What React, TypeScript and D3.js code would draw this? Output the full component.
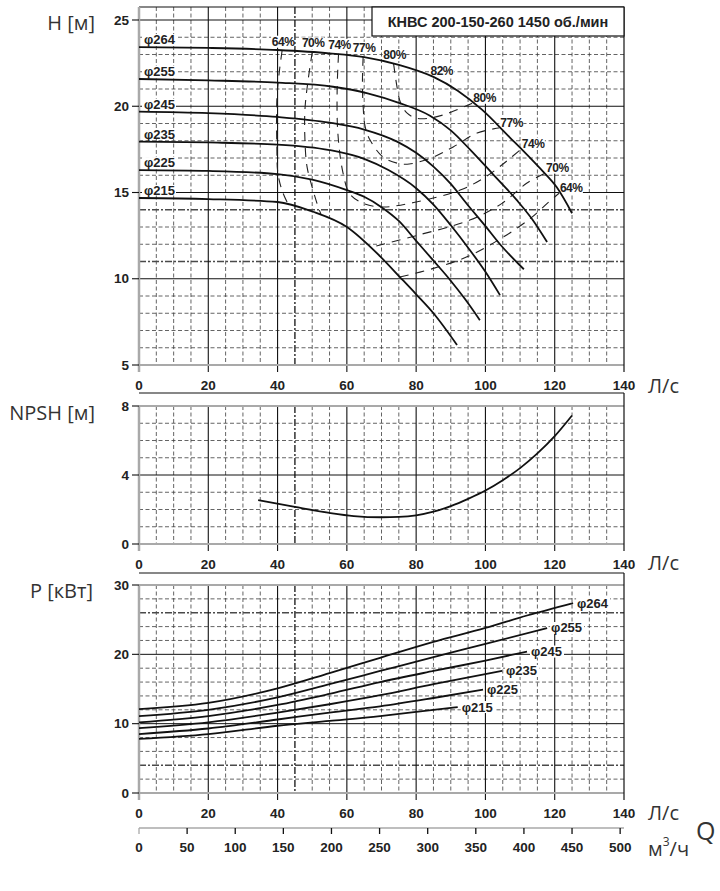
import * as d3 from 'd3';
import React from 'react';

type Pt = [number, number];

// axis ticks
const flowTicks = [0, 20, 40, 60, 80, 100, 120, 140];
const m3Ticks = [0, 50, 100, 150, 200, 250, 300, 350, 400, 450, 500];
const headTicks = [5, 10, 15, 20, 25];
const npshTicks = [0, 4, 8];
const powerTicks = [0, 10, 20, 30];

const diameters = ['φ264', 'φ255', 'φ245', 'φ235', 'φ225', 'φ215'];

// H(Q), one list per impeller diameter
const headCurves: Pt[][] = [
  [[0, 23.43], [20, 23.38], [40, 23.26], [55, 23.07], [65, 22.85], [75, 22.4], [85, 21.7], [92, 20.9], [99, 19.8], [107, 18.2], [111, 17.4], [116, 16.35], [120.6, 15.3], [125, 13.8]],
  [[0, 21.58], [20, 21.5], [40, 21.37], [56, 21.13], [66, 20.75], [75, 20.2], [84, 19.45], [90, 18.6], [95.5, 17.5], [102, 16.1], [109, 14.57], [113.5, 13.45], [117.8, 12.13]],
  [[0, 19.69], [20, 19.6], [40, 19.38], [55, 19.05], [65, 18.65], [74.5, 17.95], [80, 17.3], [85, 16.5], [90, 15.5], [94.6, 14.35], [100, 13.05], [104.2, 12.0], [111.1, 10.55]],
  [[0, 17.95], [20, 17.9], [40, 17.78], [55, 17.46], [65, 16.95], [72, 16.3], [80, 15.25], [85, 14.3], [90, 13.1], [95, 11.8], [100, 10.4], [104.2, 9.05]],
  [[0, 16.3], [20, 16.25], [40, 16.07], [50, 15.75], [60, 15.14], [65, 14.75], [70, 14.15], [75, 13.35], [80, 12.2], [85, 11.05], [89.8, 9.93], [94, 8.85], [98.4, 7.6]],
  [[0, 14.68], [20, 14.62], [40, 14.45], [50, 13.9], [60, 13.0], [69.6, 11.3], [75.3, 10.1], [80, 9.1], [85, 8.0], [91.8, 6.16]],
];

// P(Q), same diameters
const powerCurves: Pt[][] = [
  [[0, 12.1], [20, 13.0], [40, 15.1], [55, 17.3], [69.6, 19.5], [85, 21.8], [100, 23.8], [112, 25.6], [125.3, 27.4]],
  [[0, 11.1], [20, 12.0], [40, 13.8], [55, 15.7], [69.6, 17.6], [85, 19.6], [100, 21.5], [117.8, 23.8]],
  [[0, 10.2], [20, 11.1], [40, 12.7], [55, 14.3], [69.6, 16.0], [85, 17.6], [100, 19.1], [112, 20.4]],
  [[0, 9.35], [20, 10.2], [40, 11.6], [55, 12.8], [69.6, 14.1], [85, 15.7], [104.8, 17.6]],
  [[0, 8.5], [20, 9.3], [40, 10.6], [55, 11.6], [69.6, 12.5], [85, 13.7], [99.3, 14.9]],
  [[0, 7.8], [20, 8.5], [40, 9.7], [55, 10.4], [69.6, 11.1], [80, 11.7], [92, 12.4]],
];

const npshCurve: Pt[] = [
  [34.4, 2.55], [45, 2.15], [55, 1.8], [62, 1.62], [70, 1.55], [75, 1.57], [80, 1.66], [85, 1.87],
  [90, 2.2], [95, 2.62], [100, 3.1], [105, 3.7], [110, 4.4], [115, 5.25], [120, 6.25], [125, 7.45],
];

// iso-efficiency lines (dashed), each as one or two branches
const eff64: Pt[][] = [
  [[41.3, 23.22], [40.5, 22], [39.8, 20.4], [39.8, 17.6], [40.1, 16.1], [41.5, 15.0], [43, 14.35]],
  [[75.3, 10.1], [85, 10.6], [95, 11.3], [105, 12.4], [113, 13.5], [118, 14.4], [121.5, 15.0]],
];
const eff70: Pt[][] = [
  [[50, 23.12], [48.8, 21.5], [47.9, 19.8], [47.9, 18.04], [48.5, 16.5], [50, 15.3], [51.5, 14.3], [52.5, 13.75]],
  [[68.5, 11.9], [80, 12.5], [95.5, 13.4], [105, 14.4], [112, 15.55], [117.5, 16.15]],
];
const eff74: Pt[][] = [
  [[57.6, 23.04], [57.2, 21], [57.4, 18.45], [58.9, 16.13], [60.9, 14.9], [65, 14.35], [70.4, 14.16], [80, 14.45], [92.7, 15.14], [100, 15.9], [106, 16.8], [110.5, 17.55]],
];
const eff77: Pt[][] = [
  [[64.7, 22.86], [64.5, 21.5], [64.7, 20], [65.3, 18.8], [66.7, 18.04], [70.4, 17.06], [74.5, 16.7], [78, 16.65], [85, 17.06], [90.7, 17.64], [97.6, 18.45], [104.3, 18.75]],
];
const eff80: Pt[][] = [
  [[73.5, 22.45], [74.5, 21.1], [75.5, 20.2], [77.4, 19.6], [80.3, 19.3], [85, 19.35], [90, 19.65], [96.5, 20.2]],
];
const effLevels = ['64%', '70%', '74%', '77%', '80%'];
const effBranches = [eff64, eff70, eff74, eff77, eff80];
const bestPoint: Pt = [85, 21.7];
const bestLabel = '82%';

const title = 'КНВС 200-150-260 1450 об./мин';

const X0 = 139;
const X1 = 624;
const x = d3.scaleLinear().domain([0, 140]).range([X0, X1]);
const yH = d3.scaleLinear().domain([5, 25]).range([365, 20]);
const yN = d3.scaleLinear().domain([0, 8]).range([544, 406]);
const yP = d3.scaleLinear().domain([0, 30]).range([793, 585]);
const xM = d3.scaleLinear().domain([0, 500]).range([X0, x(500 / 3.6)]);

const NUM = "'Liberation Sans', Arial, sans-serif";
const WORD = "'Open Sans', 'DejaVu Sans', sans-serif";
const GRID = '#3c3c3c';
const AXIS = '#a9a9a9';

function grid(
  y: d3.ScaleLinear<number, number>,
  lo: number,
  hi: number,
  step: number,
  major: number,
  heavy: number[],
  top: number,
  borderTop: number,
  key: string
) {
  const bottom = y(lo);
  const out: React.ReactNode[] = [];
  d3.range(5, 140, 5).forEach((q) => {
    if (q % 20 === 0 || q === 45) return;
    out.push(<line key={`${key}v${q}`} x1={x(q)} x2={x(q)} y1={top} y2={bottom} stroke={GRID} strokeWidth={0.8} strokeDasharray="4,2.5" />);
  });
  d3.range(lo + step, hi, step).forEach((v) => {
    if (Math.abs(v % major) < 1e-6 || heavy.includes(v)) return;
    out.push(<line key={`${key}h${v}`} x1={X0} x2={X1} y1={y(v)} y2={y(v)} stroke={GRID} strokeWidth={0.8} strokeDasharray="4,2.5" />);
  });
  heavy.forEach((v) => {
    out.push(<line key={`${key}hh${v}`} x1={X0} x2={X1} y1={y(v)} y2={y(v)} stroke="#4a4a4a" strokeWidth={1.7} strokeDasharray="7,2,2,2" />);
  });
  out.push(<line key={`${key}v45`} x1={x(45)} x2={x(45)} y1={top} y2={bottom} stroke="#4a4a4a" strokeWidth={1.7} strokeDasharray="7,2,2,2" />);
  d3.range(lo + major, hi + 1e-6, major).forEach((v) => {
    if (Math.abs(v - hi) < 1e-6 && top === y(hi)) return;
    out.push(<line key={`${key}hm${v}`} x1={X0} x2={X1} y1={y(v)} y2={y(v)} stroke="#111" strokeWidth={1} />);
  });
  flowTicks.forEach((q) => {
    if (q === 0 || q === 140) return;
    out.push(<line key={`${key}vm${q}`} x1={x(q)} x2={x(q)} y1={top} y2={bottom + 7} stroke="#111" strokeWidth={1.1} />);
  });
  if (top === y(hi)) {
    out.push(<line key={`${key}top`} x1={X0} x2={X1} y1={top} y2={top} stroke={AXIS} strokeWidth={2} />);
  }
  if (borderTop < top) {
    out.push(<line key={`${key}btop`} x1={X0} x2={X1} y1={borderTop} y2={borderTop} stroke="#111" strokeWidth={1.2} />);
  } else {
    out.push(<line key={`${key}btop`} x1={X0} x2={X1} y1={top} y2={top} stroke="#111" strokeWidth={1.2} />);
  }
  out.push(<line key={`${key}bot`} x1={X0} x2={X1} y1={bottom} y2={bottom} stroke={AXIS} strokeWidth={2} />);
  out.push(<line key={`${key}left`} x1={X0} x2={X0} y1={top} y2={bottom + 7} stroke={AXIS} strokeWidth={2.5} />);
  out.push(<line key={`${key}right`} x1={X1} x2={X1} y1={borderTop} y2={bottom + 7} stroke="#111" strokeWidth={1.2} />);
  flowTicks.forEach((q) => {
    out.push(
      <text key={`${key}xt${q}`} x={x(q)} y={bottom + 20} textAnchor="middle" dominantBaseline="central" fontFamily={NUM} fontWeight="bold" fontSize={13.5} fill="#222">
        {q}
      </text>
    );
  });
  return out;
}

function yTicks(y: d3.ScaleLinear<number, number>, ticks: number[], key: string) {
  return ticks.map((v) => (
    <g key={`${key}yt${v}`}>
      <line x1={X0 - 7} x2={X0} y1={y(v)} y2={y(v)} stroke="#111" strokeWidth={1.1} />
      <text x={X0 - 10} y={y(v)} textAnchor="end" dominantBaseline="central" fontFamily={NUM} fontWeight="bold" fontSize={13.5} fill="#222">
        {v}
      </text>
    </g>
  ));
}

export default function App() {
  const smooth = d3.curveCatmullRom.alpha(0.5);
  const mono = d3.curveMonotoneX;
  const lineH = d3.line<Pt>().x((d) => x(d[0])).y((d) => yH(d[1])).curve(mono);
  const lineE = d3.line<Pt>().x((d) => x(d[0])).y((d) => yH(d[1])).curve(smooth);
  const lineN = d3.line<Pt>().x((d) => x(d[0])).y((d) => yN(d[1])).curve(mono);
  const lineP = d3.line<Pt>().x((d) => x(d[0])).y((d) => yP(d[1])).curve(mono);

  const unitStyle = { fontFamily: WORD, fontSize: 20, fill: '#333' };
  const effFont = { fontFamily: NUM, fontWeight: 'bold', fontSize: 12, fill: '#222', letterSpacing: -0.5 };

  return (
    <svg width={720} height={891} style={{ position: 'absolute', left: 0, top: 0, background: '#fff' }}>
      <rect width={720} height={891} fill="#fff" />

      {/* H(Q) */}
      {grid(yH, 5, 25, 1, 5, [14, 11], 7, 7, 'h')}
      {yTicks(yH, headTicks, 'h')}
      {effBranches.map((branches, i) =>
        branches.map((b, j) => (
          <path key={`e${i}${j}`} d={lineE(b) || ''} fill="none" stroke="#222" strokeWidth={1.1} strokeDasharray="9,7" />
        ))
      )}
      {headCurves.map((c, i) => (
        <rect key={`hb${i}`} x={142} y={yH(c[0][1]) - 13} width={34} height={10} fill="#fff" />
      ))}
      {effBranches.map((branches, i) => {
        const s = branches[0][0];
        const last = branches[branches.length - 1];
        const e = last[last.length - 1];
        return (
          <g key={`el${i}`} {...effFont}>
            <rect x={x(s[0]) - 11} y={yH(s[1]) - 15} width={23} height={12} fill="#fff" />
            <text x={x(s[0]) + 1} y={yH(s[1]) - 9} textAnchor="middle" dominantBaseline="central">{effLevels[i]}</text>
            <rect x={x(e[0]) - 1} y={yH(e[1]) - 11} width={24} height={12} fill="#fff" />
            <text x={x(e[0])} y={yH(e[1]) - 5} dominantBaseline="central">{effLevels[i]}</text>
          </g>
        );
      })}
      <g {...effFont}>
        <rect x={x(bestPoint[0]) - 3} y={yH(bestPoint[1]) - 12} width={24} height={12} fill="#fff" />
        <text x={x(bestPoint[0]) - 3} y={yH(bestPoint[1]) - 6} dominantBaseline="central">{bestLabel}</text>
      </g>
      {headCurves.map((c, i) => (
        <path key={`h${i}`} d={lineH(c) || ''} fill="none" stroke="#111" strokeWidth={1.8} />
      ))}
      {headCurves.map((c, i) => (
        <text key={`ht${i}`} x={144} y={yH(c[0][1]) - 3} fontFamily={NUM} fontWeight="bold" fontSize={13} fill="#222">
          {diameters[i]}
        </text>
      ))}
      <rect x={372} y={7} width={X1 - 372} height={29} fill="#fff" stroke="#111" strokeWidth={1.2} />
      <text x={498} y={22} textAnchor="middle" dominantBaseline="central" fontFamily={NUM} fontWeight="bold" fontSize={14.5} fill="#222">
        {title}
      </text>
      <text x={95} y={22} textAnchor="end" dominantBaseline="central" {...unitStyle}>H [м]</text>
      <text x={648} y={385} dominantBaseline="central" {...unitStyle}>Л/с</text>

      {/* NPSH(Q) */}
      {grid(yN, 0, 8, 1, 4, [], yN(8), 393, 'n')}
      {yTicks(yN, npshTicks, 'n')}
      <path d={lineN(npshCurve) || ''} fill="none" stroke="#111" strokeWidth={1.8} />
      <text x={95} y={412} textAnchor="end" dominantBaseline="central" {...unitStyle}>NPSH [м]</text>
      <text x={648} y={562} dominantBaseline="central" {...unitStyle}>Л/с</text>

      {/* P(Q) */}
      {grid(yP, 0, 30, 2, 10, [26, 4], yP(30), 573, 'p')}
      {yTicks(yP, powerTicks, 'p')}
      {powerCurves.map((c, i) => {
        const e = c[c.length - 1];
        return <rect key={`pb${i}`} x={x(e[0]) + 3} y={yP(e[1]) - 6} width={34} height={12} fill="#fff" />;
      })}
      {powerCurves.map((c, i) => (
        <path key={`p${i}`} d={lineP(c) || ''} fill="none" stroke="#111" strokeWidth={1.8} />
      ))}
      {powerCurves.map((c, i) => {
        const e = c[c.length - 1];
        return (
          <text key={`pt${i}`} x={x(e[0]) + 4} y={yP(e[1])} dominantBaseline="central" fontFamily={NUM} fontWeight="bold" fontSize={13} fill="#222">
            {diameters[i]}
          </text>
        );
      })}
      <text x={93} y={590} textAnchor="end" dominantBaseline="central" {...unitStyle}>P [кВт]</text>
      <text x={648} y={812} dominantBaseline="central" {...unitStyle}>Л/с</text>

      {/* m3/h scale */}
      <line x1={X0} x2={X1} y1={828} y2={828} stroke={AXIS} strokeWidth={1.6} />
      {m3Ticks.map((v) => (
        <g key={`m${v}`}>
          <line x1={xM(v)} x2={xM(v)} y1={828} y2={834} stroke={v === 0 ? AXIS : '#111'} strokeWidth={1.3} />
          <text x={xM(v)} y={847} textAnchor="middle" dominantBaseline="central" fontFamily={NUM} fontWeight="bold" fontSize={13.5} fill="#222">
            {v}
          </text>
        </g>
      ))}
      <text x={648} y={848} dominantBaseline="central" {...unitStyle}>
        м<tspan dy={-7} fontSize={12}>3</tspan><tspan dy={7}>/ч</tspan>
      </text>
      <text x={696} y={830} dominantBaseline="central" fontFamily={WORD} fontSize={25} fill="#333">Q</text>
    </svg>
  );
}
